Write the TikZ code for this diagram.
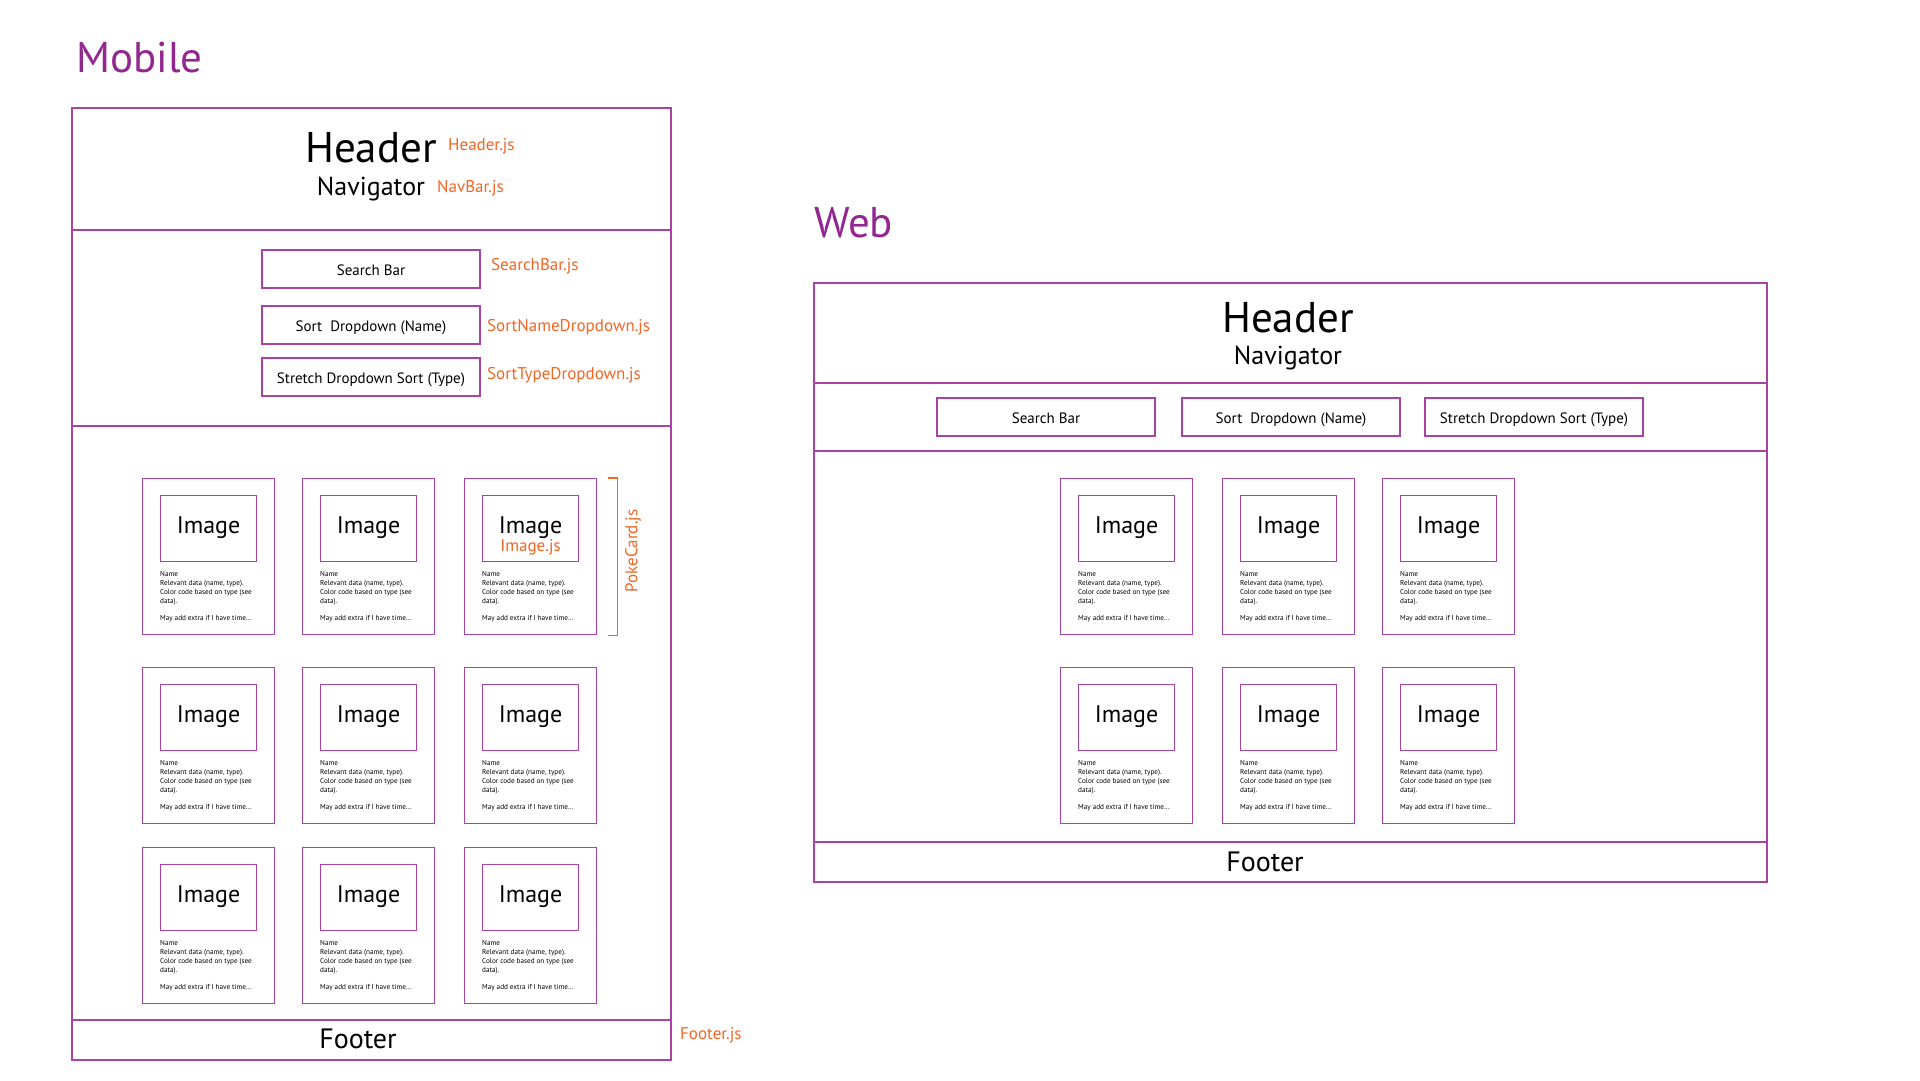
\documentclass[tikz,border=0pt]{standalone}
\usepackage{fontspec}
\setmainfont{PT Sans}
\usetikzlibrary{positioning}
\definecolor{WFPurple}{HTML}{A842A4}
\definecolor{WFTitle}{HTML}{92278F}
\definecolor{WFOrange}{HTML}{F26522}

\tikzset{
  wfline/.style={WFPurple,line width=1.1pt},
  ctrlbox/.style={draw=WFPurple,line width=1.1pt,minimum width=218pt,minimum height=38pt,inner sep=0pt,text height=13pt,text depth=1pt,font=\fontsize{15}{18}\selectfont},
  cardbox/.style={draw=WFPurple,line width=1.1pt,minimum width=132pt,minimum height=156pt,inner sep=0pt},
  imgbox/.style={draw=WFPurple,line width=1.1pt,minimum width=96pt,minimum height=66pt,inner sep=0pt,text height=18pt,text depth=8pt,font=\fontsize{24}{26}\selectfont},
  cardtext/.style={align=left,inner sep=0pt,font=\fontsize{7.2}{9}\selectfont},
  filelabel/.style={WFOrange,anchor=west,inner sep=0pt,font=\fontsize{17}{20}\selectfont},
  viewtitle/.style={WFTitle,anchor=west,inner sep=0pt,font=\fontsize{43}{48}\selectfont},
}

% one card: name, left, top
\newcommand{\pokecard}[3]{%
  \node[cardbox,anchor=north west] (#1) at (#2,#3) {};
  \node[imgbox,anchor=north west] (#1img) at ([xshift=18pt,yshift=-17pt]#1.north west) {Image};
  \node[cardtext,anchor=north west] (#1txt) at ([yshift=-9pt]#1img.south west)
    {Name\\Relevant data (name, type).\\Color code based on type (see\\data).\\[8pt]May add extra if I have time...};
}

\begin{document}
\begin{tikzpicture}[x=1pt,y=-1pt]
\path[use as bounding box] (0,0) rectangle (1920,1080);

% ---- mobile
\node[viewtitle] (mobTitle) at (76,58) {Mobile};
\draw[wfline] (72,108) rectangle (671,1060);
\draw[wfline] (72,230) -- (671,230);
\draw[wfline] (72,426) -- (671,426);
\draw[wfline] (72,1020) -- (671,1020);
\node[font=\fontsize{43}{46}\selectfont] (mobHeader) at (371,148) {Header};
\node[font=\fontsize{26}{30}\selectfont] (mobNav) at (371,189) {Navigator};
\node[filelabel] (mobHeaderJs) at (448,146) {Header.js};
\node[filelabel] (mobNavJs) at (437,188) {NavBar.js};

\node[ctrlbox] (mobSearch) at (371,269) {Search Bar};
\node[ctrlbox] (mobSortName) at (371,325) {Sort\ \ Dropdown (Name)};
\node[ctrlbox] (mobSortType) at (371,377) {Stretch Dropdown Sort (Type)};
\node[filelabel] (mobSearchJs) at (491,266) {SearchBar.js};
\node[filelabel] (mobSortNameJs) at (487,327) {SortNameDropdown.js};
\node[filelabel] (mobSortTypeJs) at (487,375) {SortTypeDropdown.js};

\foreach \r/\y in {1/478,2/667,3/847}{
  \foreach \c/\x in {1/142,2/302,3/464}{
    \pokecard{mob\r\c}{\x}{\y}
  }
}
\node[WFOrange,font=\fontsize{17}{20}\selectfont,inner sep=0pt] (mobImageJs) at ([yshift=-19pt]mob13img.center) {Image.js};
\draw[WFOrange,line width=1.1pt] ([xshift=11pt]mob13.north east) -- ([xshift=20pt]mob13.north east)
  -- ([xshift=20pt]mob13.south east) -- ([xshift=11pt]mob13.south east);
\node[WFOrange,rotate=90,font=\fontsize{17}{20}\selectfont,inner sep=0pt] (mobCardJs) at (633,551) {PokeCard.js};

\node[font=\fontsize{28}{32}\selectfont] (mobFooter) at (358,1039) {Footer};
\node[filelabel] (mobFooterJs) at (680,1035) {Footer.js};

% ---- web
\node[viewtitle] (webTitle) at (814,223) {Web};
\draw[wfline] (814,283) rectangle (1767,882);
\draw[wfline] (814,383) -- (1767,383);
\draw[wfline] (814,451) -- (1767,451);
\draw[wfline] (814,842) -- (1767,842);
\node[font=\fontsize{43}{46}\selectfont] (webHeader) at (1288,318) {Header};
\node[font=\fontsize{26}{30}\selectfont] (webNav) at (1288,358) {Navigator};

\node[ctrlbox] (webSearch) at (1046,417) {Search Bar};
\node[ctrlbox] (webSortName) at (1291,417) {Sort\ \ Dropdown (Name)};
\node[ctrlbox] (webSortType) at (1534,417) {Stretch Dropdown Sort (Type)};

\foreach \r/\y in {1/478,2/667}{
  \foreach \c/\x in {1/1060,2/1222,3/1382}{
    \pokecard{web\r\c}{\x}{\y}
  }
}

\node[font=\fontsize{28}{32}\selectfont] (webFooter) at (1265,862) {Footer};
\end{tikzpicture}
\end{document}
